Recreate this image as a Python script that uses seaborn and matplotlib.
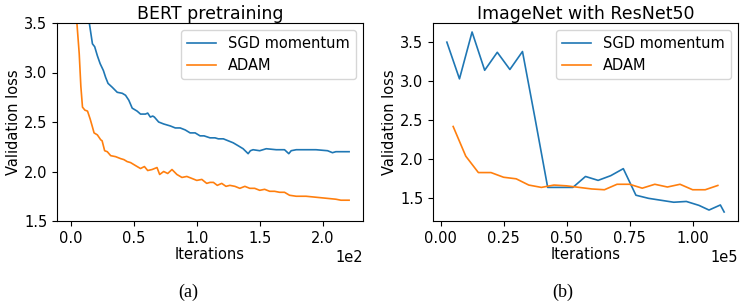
import numpy as np
import pandas as pd
import matplotlib
matplotlib.use("Agg")
import matplotlib.pyplot as plt
import seaborn as sns

# ---------------- data ----------------
series_names = ["SGD momentum", "ADAM"]
colors = ["#1f77b4", "#ff7f0e"]

# (a) BERT pretraining
bert_sgd_x = [0, 5, 10, 14.5, 17.1, 18.9, 21.0, 23.2, 25.8, 27.6, 29.5, 32.9, 36.8, 40.8, 43.4, 46.0,
              48.7, 52.6, 55.3, 59.2, 61.0, 63.1, 65.0, 66.3, 69.7, 73.7, 79.0, 82.9, 86.8, 90.8, 94.7,
              98.7, 102.6, 105.8, 110.5, 114.5, 117.1, 121.1, 125.0, 128.9, 132.9, 136.8, 140.8,
              142.6, 144.7, 150.0, 155.2, 163.1, 169.7, 173.1, 175.0, 179.0, 186.8, 194.7, 203.9,
              207.8, 210.5, 221.0]
bert_sgd_y = [7.0, 5.5, 4.2, 3.51, 3.29, 3.26, 3.17, 3.09, 3.02, 2.95, 2.89, 2.85, 2.80, 2.79, 2.77, 2.72,
              2.64, 2.61, 2.58, 2.58, 2.59, 2.55, 2.56, 2.55, 2.50, 2.48, 2.46, 2.44, 2.44, 2.42, 2.39,
              2.39, 2.36, 2.36, 2.34, 2.34, 2.33, 2.33, 2.31, 2.29, 2.26, 2.23, 2.18,
              2.21, 2.22, 2.21, 2.23, 2.22, 2.22, 2.18, 2.21, 2.22, 2.22, 2.22, 2.21,
              2.19, 2.20, 2.20]

bert_adam_x = [0, 2, 4, 4.7, 6.6, 7.9, 9.2, 11.1, 13.2, 15.3, 17.1, 18.4, 21.0, 23.7, 24.8, 26.8, 28.9,
               31.6, 35.5, 39.5, 42.1, 44.7, 47.4, 51.3, 55.3, 58.4, 61.0, 64.5, 68.4, 70.5, 73.7,
               76.9, 80.3, 84.2, 88.2, 92.1, 96.1, 100.0, 104.0, 107.9, 110.5, 113.2, 116.3, 119.8,
               123.2, 126.3, 130.3, 134.2, 138.2, 142.1, 146.0, 150.0, 153.9, 157.9, 161.8, 165.8,
               169.7, 173.7, 179.0, 186.8, 194.7, 202.6, 210.5, 214.5, 221.0]
bert_adam_y = [6.5, 5.0, 3.8, 3.51, 3.19, 2.86, 2.65, 2.62, 2.61, 2.53, 2.45, 2.39, 2.37, 2.32, 2.31, 2.21, 2.20,
               2.16, 2.15, 2.13, 2.12, 2.10, 2.09, 2.06, 2.03, 2.05, 2.01, 2.02, 2.04, 1.97, 2.00,
               1.98, 2.02, 1.97, 1.94, 1.95, 1.93, 1.91, 1.92, 1.88, 1.89, 1.89, 1.86, 1.88,
               1.85, 1.86, 1.85, 1.83, 1.85, 1.83, 1.83, 1.81, 1.82, 1.80, 1.80, 1.79,
               1.79, 1.76, 1.75, 1.75, 1.74, 1.73, 1.72, 1.71, 1.71]

# (b) ImageNet with ResNet50
imnet_sgd_x = [2500, 7500, 12500, 17500, 22500, 27500, 32500, 37500, 42500, 47500, 52500, 57500,
               62500, 67500, 72500, 77500, 82500, 87500, 92500, 97500, 102500, 106500, 111000, 112500]
imnet_sgd_y = [3.50, 3.03, 3.63, 3.14, 3.37, 3.15, 3.38, 2.52, 1.64, 1.64, 1.64, 1.78,
               1.73, 1.79, 1.88, 1.54, 1.50, 1.475, 1.45, 1.46, 1.41, 1.35, 1.415, 1.325]

imnet_adam_x = [5000, 10000, 15000, 20000, 25000, 30000, 35000, 40000, 45000, 50000, 55000,
                60000, 65000, 70000, 75000, 80000, 85000, 90000, 95000, 100000, 105000, 110000]
imnet_adam_y = [2.42, 2.04, 1.83, 1.83, 1.77, 1.75, 1.67, 1.64, 1.67, 1.66, 1.64,
                1.62, 1.61, 1.68, 1.68, 1.63, 1.68, 1.645, 1.68, 1.61, 1.61, 1.665]

titles = ["BERT pretraining", "ImageNet with ResNet50"]
captions = ["(a)", "(b)"]
xlabel = "Iterations"
ylabel = "Validation loss"

# ---------------- plot ----------------
plt.rcParams["font.family"] = ["DejaVu Sans"]
fs = 10.5

fig = plt.figure(figsize=(7.4, 3.08), dpi=100)
ax1 = fig.add_axes([57 / 740, 87 / 308, 306 / 740, 198 / 308])
ax2 = fig.add_axes([433 / 740, 87 / 308, 305 / 740, 198 / 308])

panels = [
    (ax1, [(bert_sgd_x, bert_sgd_y), (bert_adam_x, bert_adam_y)]),
    (ax2, [(imnet_sgd_x, imnet_sgd_y), (imnet_adam_x, imnet_adam_y)]),
]

for i, (ax, data) in enumerate(panels):
    for (xs, ys), name, c in zip(data, series_names, colors):
        df = pd.DataFrame({"x": xs, "y": ys})
        sns.lineplot(data=df, x="x", y="y", ax=ax, color=c, label=name,
                     linewidth=1.2, sort=False, estimator=None)
    ax.set_title(titles[i], fontsize=12.5, pad=3)
    ax.set_xlabel(xlabel, fontsize=fs, labelpad=1)
    ax.set_ylabel(ylabel, fontsize=fs, labelpad=2)
    ax.tick_params(labelsize=fs)
    ax.ticklabel_format(axis="x", style="sci", scilimits=(0, 0))
    ax.xaxis.get_offset_text().set_fontsize(fs)
    ax.legend(loc="upper right", fontsize=fs, frameon=True)

ax1.set_ylim(1.5, 3.5)
ax1.set_yticks([1.5, 2.0, 2.5, 3.0, 3.5])

fig.text(188 / 740, 1 - 292 / 308, captions[0], family="Liberation Serif", fontsize=13,
         ha="center", va="center")
fig.text(563 / 740, 1 - 292 / 308, captions[1], family="Liberation Serif", fontsize=13,
         ha="center", va="center")

fig.savefig("out.png", dpi=100)
